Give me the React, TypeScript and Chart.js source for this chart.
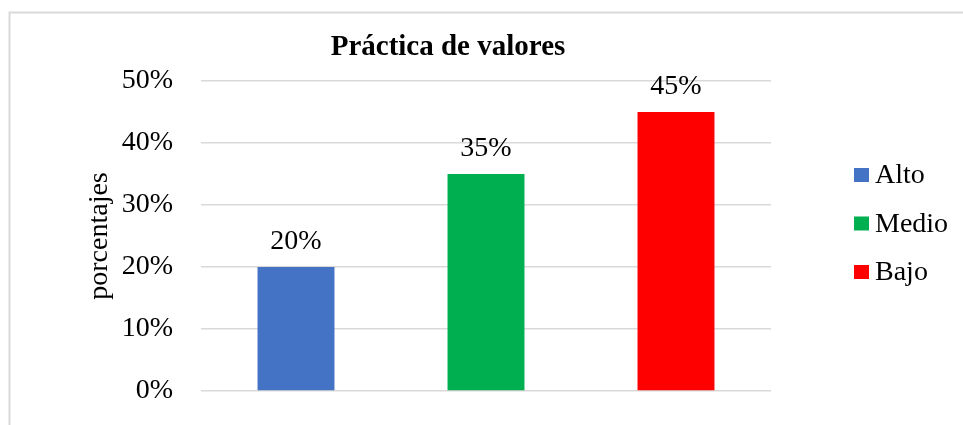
import React, { useEffect, useRef } from "react";
import { Chart, registerables } from "chart.js";

Chart.register(...registerables);

const categories = ["Alto", "Medio", "Bajo"];
const values = [20, 35, 45];
const colors = ["#4472C4", "#00B050", "#FF0000"];
const yTicks = [0, 10, 20, 30, 40, 50];
const titleText = "Práctica de valores";
const yTitle = "porcentajes";

const FONT = "'Liberation Serif', 'Times New Roman', serif";

const framePlugin = {
  id: "frame",
  beforeDraw(chart: any) {
    const ctx = chart.ctx;
    ctx.save();
    ctx.fillStyle = "#ffffff";
    ctx.fillRect(0, 0, chart.width, chart.height);
    ctx.strokeStyle = "#d9d9d9";
    ctx.lineWidth = 2;
    ctx.beginPath();
    ctx.moveTo(9.5, chart.height + 2);
    ctx.lineTo(9.5, 12.5);
    ctx.lineTo(chart.width + 2, 12.5);
    ctx.stroke();
    ctx.restore();
  },
};

const labelPlugin = {
  id: "valueLabels",
  afterDatasetsDraw(chart: any) {
    const ctx = chart.ctx;
    const meta = chart.getDatasetMeta(0);
    ctx.save();
    ctx.font = `28px ${FONT}`;
    ctx.fillStyle = "#000";
    ctx.textAlign = "center";
    ctx.textBaseline = "alphabetic";
    meta.data.forEach((el: any, i: number) => {
      ctx.fillText(values[i] + "%", el.x, el.y - 18);
    });
    ctx.restore();
  },
};

const legendPlugin = {
  id: "sideLegend",
  afterDraw(chart: any) {
    const ctx = chart.ctx;
    const area = chart.chartArea;
    const x0 = area.right + 83;
    const rowGap = 48.5;
    const y0 = 175;
    ctx.save();
    ctx.font = `28px ${FONT}`;
    ctx.textBaseline = "middle";
    ctx.textAlign = "left";
    categories.forEach((c, i) => {
      const cy = y0 + i * rowGap;
      ctx.fillStyle = colors[i];
      ctx.fillRect(x0, cy - 7, 15, 14);
      ctx.fillStyle = "#000";
      ctx.fillText(c, x0 + 21, cy + 1);
    });
    ctx.restore();
  },
};

export default function App() {
  const ref = useRef<HTMLCanvasElement | null>(null);
  useEffect(() => {
    if (!ref.current) return;
    const chart = new Chart(ref.current, {
      type: "bar",
      data: {
        labels: categories,
        datasets: [
          {
            label: titleText,
            data: values,
            backgroundColor: colors,
            borderWidth: 0,
            categoryPercentage: 0.81,
            barPercentage: 0.5,
          },
        ],
      },
      options: {
        animation: false,
        responsive: false,
        layout: { padding: { left: 0, right: 67, top: 0, bottom: 14 } },
        plugins: {
          legend: { display: false },
          tooltip: { enabled: false },
          title: {
            display: true,
            text: titleText,
            color: "#000",
            font: { family: FONT, size: 29, weight: "bold" },
            padding: { top: 30, bottom: 16.2 },
          },
        },
        scales: {
          x: {
            display: true,
            grid: { display: false, drawTicks: false },
            border: { display: false },
            ticks: { display: false },
            afterFit(s: any) {
              s.height = 20;
              s.paddingLeft = 0;
              s.paddingRight = 0;
            },
          },
          y: {
            min: 0,
            max: 50,
            afterBuildTicks(s: any) {
              s.ticks = yTicks.map((v) => ({ value: v }));
            },
            ticks: {
              color: "#000",
              padding: 28,
              font: { family: FONT, size: 28 },
              callback: (v: any) => v + "%",
            },
            grid: { color: "#d9d9d9", lineWidth: 1.5, drawTicks: false },
            border: { display: false },
            title: {
              display: true,
              text: yTitle,
              color: "#000",
              font: { family: FONT, size: 28 },
              padding: { top: 83, bottom: 0 },
            },
            afterFit(s: any) {
              s.width = 201;
              s.paddingTop = 0;
              s.paddingBottom = 0;
            },
          },
          yRight: {
            position: "right",
            display: true,
            grid: { display: false, drawTicks: false },
            border: { display: false },
            ticks: { display: false },
            afterFit(s: any) {
              s.width = 125;
              s.paddingTop = 0;
              s.paddingBottom = 0;
            },
          },
        },
      } as any,
      plugins: [framePlugin, labelPlugin, legendPlugin],
    });
    return () => chart.destroy();
  }, []);
  return (
    <div style={{ position: "fixed", left: 0, top: 0, width: 963, height: 425, background: "#fff" }}>
      <canvas ref={ref} width={963} height={425} style={{ display: "block" }} />
    </div>
  );
}
